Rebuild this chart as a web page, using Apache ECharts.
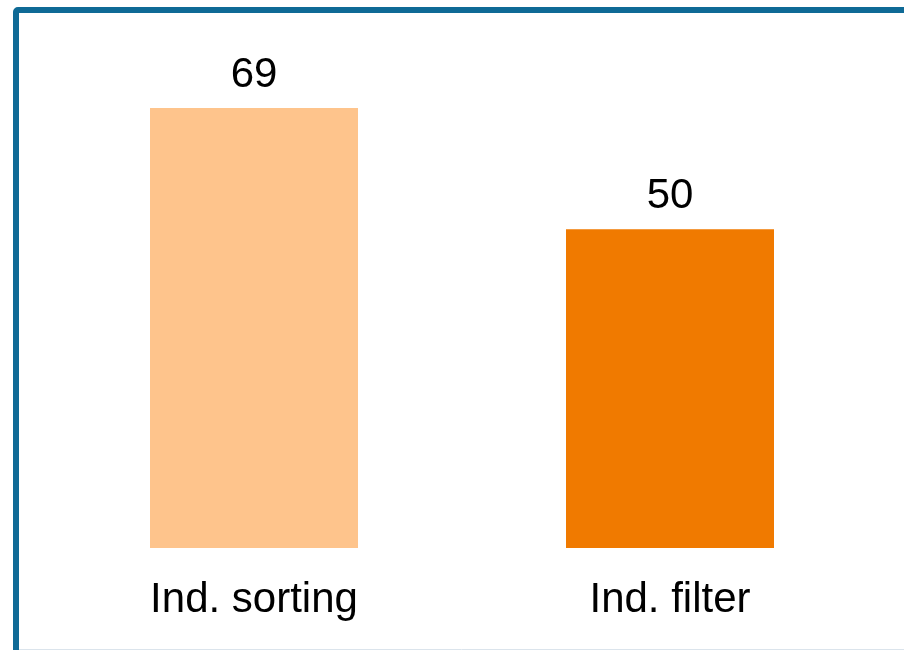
<!DOCTYPE html>
<html>
<head>
<meta charset="utf-8">
<script src="https://cdn.jsdelivr.net/npm/echarts@6/dist/echarts.min.js"></script>
<style>html,body{margin:0;padding:0;background:#fff;}#c{width:904px;height:650px;}</style>
</head>
<body>
<div id="c"></div>
<script>
var categories = ['Ind. sorting', 'Ind. filter'];
var values = [69, 50];
var barColors = ['#fec48c', '#f07a00'];

var chart = echarts.init(document.getElementById('c'), null, {renderer: 'canvas'});
chart.setOption({
  animation: false,
  backgroundColor: '#ffffff',
  grid: {left: 46, right: 26, top: 108, bottom: 102, containLabel: false},
  xAxis: {
    type: 'category',
    data: categories,
    axisLine: {show: false},
    axisTick: {show: false},
    axisLabel: {color: '#000', fontSize: 42, fontFamily: 'Liberation Sans, Arial, sans-serif', margin: 31}
  },
  yAxis: {
    type: 'value', min: 0, max: 69,
    show: false,
    splitLine: {show: false}
  },
  series: [{
    type: 'bar',
    barWidth: '50%',
    data: values.map(function (v, i) { return {value: v, itemStyle: {color: barColors[i]}}; }),
    label: {show: true, position: 'top', distance: 12, color: '#000', fontSize: 42, fontFamily: 'Liberation Sans, Arial, sans-serif'}
  }],
  graphic: [
    {type: 'rect', shape: {x: 16, y: 10, width: 1200, height: 1200, r: 2}, style: {fill: 'none', stroke: '#0f6a96', lineWidth: 6}, z: 100},
    {type: 'line', shape: {x1: 19, y1: 649.5, x2: 904, y2: 649.5}, style: {stroke: '#dbe4ec', lineWidth: 1}, z: 100}
  ]
});
</script>
</body>
</html>
